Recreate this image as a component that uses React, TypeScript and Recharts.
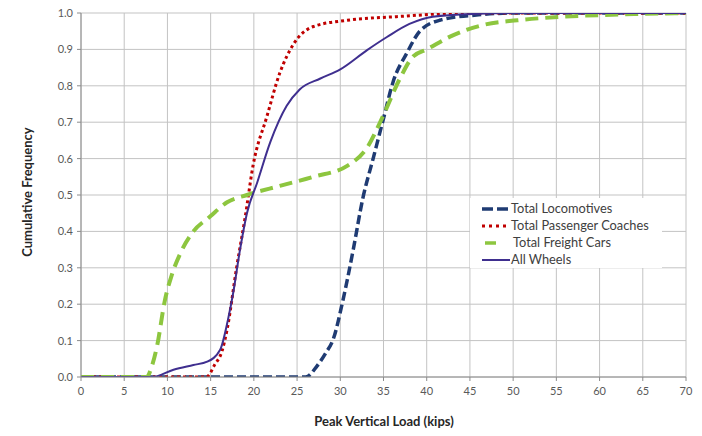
import React from 'react';
import { LineChart, Line, XAxis, YAxis, CartesianGrid } from 'recharts';

const xTicks = [0, 5, 10, 15, 20, 25, 30, 35, 40, 45, 50, 55, 60, 65, 70];
const yTicks = [0, 0.1, 0.2, 0.3, 0.4, 0.5, 0.6, 0.7, 0.8, 0.9, 1.0];

const seriesNames = ['Total Locomotives', 'Total Passenger Coaches', 'Total Freight Cars', 'All Wheels'];

const locomotives: [number, number][] = [
  [0, 0], [26, 0], [27.3, 0.03], [28.3, 0.065], [29.2, 0.105], [30.3, 0.21], [31.5, 0.35],
  [32.6, 0.49], [33.8, 0.6], [35, 0.71], [36.1, 0.81], [37.7, 0.89], [39.2, 0.95],
  [41.5, 0.98], [46, 0.995], [50, 1], [70, 1],
];

const passenger: [number, number][] = [
  [0, 0], [14.5, 0], [15.5, 0.035], [16.3, 0.07], [16.9, 0.13], [18, 0.3], [19, 0.44],
  [19.9, 0.58], [21.5, 0.715], [23, 0.835], [24.6, 0.915], [26.9, 0.963], [30.8, 0.98],
  [36.5, 0.99], [45, 1], [70, 1],
];

const freight: [number, number][] = [
  [0, 0], [7.6, 0], [8.2, 0.03], [8.8, 0.085], [9.7, 0.21], [10.5, 0.28], [11.5, 0.34],
  [13, 0.4], [14.9, 0.44], [16.9, 0.48], [19.2, 0.5], [23, 0.525], [26.9, 0.55],
  [30.8, 0.58], [33.1, 0.63], [35, 0.72], [36.9, 0.82], [38.4, 0.88], [40, 0.9],
  [42.7, 0.935], [46.5, 0.967], [50.5, 0.98], [56, 0.99], [64, 0.997], [70, 1],
];

const allWheels: [number, number][] = [
  [0, 0], [8.3, 0], [10.7, 0.02], [13, 0.033], [14.6, 0.042], [16.1, 0.075], [17, 0.157],
  [17.6, 0.23], [18.4, 0.35], [19.2, 0.45], [20.4, 0.535], [21.9, 0.645], [23.8, 0.745],
  [25.3, 0.79], [27.7, 0.82], [30, 0.845], [33.1, 0.898], [35.4, 0.934], [38, 0.97],
  [40.7, 0.99], [46, 0.998], [50, 1], [70, 1],
];

const toPts = (arr: [number, number][]) => arr.map(([x, y]) => ({ x, y }));

const FONT = 'Lato, "Open Sans", sans-serif';
const TICK = { fill: '#595959', fontSize: 11, fontFamily: FONT };

const COLORS = {
  loco: '#1f3b73',
  pass: '#c00000',
  freight: '#8dc63f',
  all: '#3f2f8f',
};

const LegendBox = () => {
  const rowY = [11, 28, 45, 62];
  return (
    <svg width={192} height={70} style={{ display: 'block' }}>
      <rect x={0} y={0} width={192} height={70} fill="#ffffff" />
      <line x1={12} x2={40} y1={rowY[0]} y2={rowY[0]} stroke={COLORS.loco} strokeWidth={3.5} strokeDasharray="11 4" />
      <line x1={12} x2={40} y1={rowY[1]} y2={rowY[1]} stroke={COLORS.pass} strokeWidth={3} strokeDasharray="3 4" />
      <line x1={15} x2={26} y1={rowY[2]} y2={rowY[2]} stroke={COLORS.freight} strokeWidth={3.5} />
      <line x1={12} x2={40} y1={rowY[3]} y2={rowY[3]} stroke={COLORS.all} strokeWidth={2} />
      {seriesNames.map((n, i) => (
        <text key={n} x={i === 2 ? 43 : 41} y={rowY[i]} dy="0.35em" fontFamily={FONT} fontSize={12.8} fill="#404040">{n}</text>
      ))}
    </svg>
  );
};

export default function App() {
  return (
    <div style={{ position: 'absolute', left: 0, top: 0, width: 702, height: 436, background: '#fff' }}>
      <LineChart width={702} height={436} margin={{ top: 13, right: 16, left: 0, bottom: 0 }}>
        <CartesianGrid stroke="#c3c3c3" strokeWidth={1} />
        <XAxis
          type="number"
          dataKey="x"
          domain={[0, 70]}
          ticks={xTicks}
          interval={0}
          height={59}
          tick={TICK}
          tickSize={4}
          tickMargin={6}
          stroke="#8c8c8c"
          allowDataOverflow
          label={() => (
            <text x={384} y={423} textAnchor="middle" dominantBaseline="middle" fontFamily={FONT} fontWeight={700} fontSize={13} fill="#262626">
              Peak Vertical Load (kips)
            </text>
          )}
        />
        <YAxis
          type="number"
          domain={[0, 1]}
          ticks={yTicks}
          interval={0}
          width={81}
          tick={TICK}
          tickSize={4}
          tickMargin={4}
          tickFormatter={(v: number) => v.toFixed(1)}
          stroke="#8c8c8c"
          allowDataOverflow
          label={() => (
            <text x={29} y={192} transform="rotate(-90 29 192)" textAnchor="middle" dominantBaseline="middle" fontFamily={FONT} fontWeight={700} fontSize={13} fill="#262626">
              Cumulative Frequency
            </text>
          )}
        />
        <Line data={toPts(locomotives)} dataKey="y" name={seriesNames[0]} type="monotone" stroke={COLORS.loco} strokeWidth={3.5} strokeDasharray="9 4" dot={false} isAnimationActive={false} />
        <Line data={toPts(passenger)} dataKey="y" name={seriesNames[1]} type="monotone" stroke={COLORS.pass} strokeWidth={3} strokeDasharray="3 3" dot={false} isAnimationActive={false} />
        <Line data={toPts(freight)} dataKey="y" name={seriesNames[2]} type="monotone" stroke={COLORS.freight} strokeWidth={4} strokeDasharray="13 7" dot={false} isAnimationActive={false} />
        <Line data={toPts(allWheels)} dataKey="y" name={seriesNames[3]} type="monotone" stroke={COLORS.all} strokeWidth={2} dot={false} isAnimationActive={false} />
      </LineChart>
      <div style={{ position: 'absolute', left: 470, top: 198 }}>
        <LegendBox />
      </div>
    </div>
  );
}
